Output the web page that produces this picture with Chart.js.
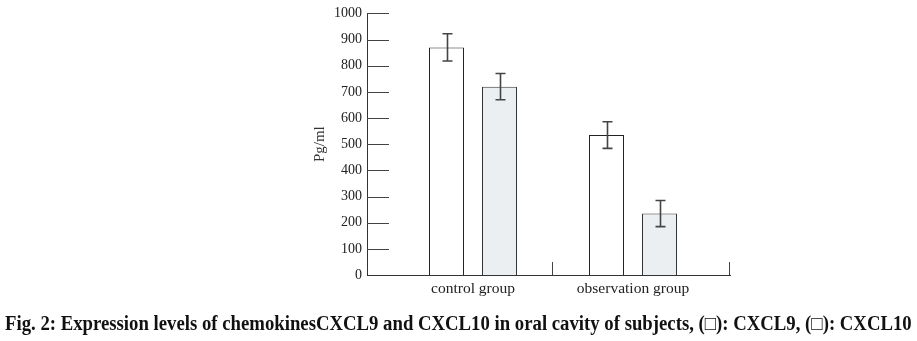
<!DOCTYPE html>
<html>
<head>
<meta charset="utf-8">
<script src="https://cdn.jsdelivr.net/npm/chart.js@4"></script>
<style>
  html, body { margin: 0; padding: 0; background: #fff; }
  #wrap { position: relative; width: 917px; height: 341px; overflow: hidden; }
  #cap { position: absolute; left: 5px; top: 312px; white-space: nowrap; line-height: 23px;
         font: bold 20px "Liberation Serif", "Times New Roman", serif; color: #111;
         transform-origin: 0 0; }
</style>
</head>
<body>
<div id="wrap">
  <canvas id="c" width="917" height="341"></canvas>
  <div id="cap">Fig. 2: Expression levels of chemokinesCXCL9 and CXCL10 in oral cavity of subjects, (□): CXCL9, (□): CXCL10</div>
</div>
<script>
const categories = ['control group', 'observation group'];
const cxcl9 = [870, 535];
const cxcl10 = [720, 235];
const cxcl9Err = [52, 51];
const cxcl10Err = [50, 50];
const yTicks = [0, 100, 200, 300, 400, 500, 600, 700, 800, 900, 1000];

const errs = [cxcl9Err, cxcl10Err];

const decor = {
  id: 'decor',
  afterDatasetsDraw(chart) {
    const ctx = chart.ctx;
    const x = chart.scales.x, y = chart.scales.y;
    const left = chart.chartArea.left, bottom = chart.chartArea.bottom;
    ctx.save();
    ctx.strokeStyle = '#444';
    ctx.lineWidth = 1;
    yTicks.forEach(v => {
      if (v === 0) return;
      const py = Math.round(y.getPixelForValue(v)) + 0.5;
      ctx.beginPath(); ctx.moveTo(left, py); ctx.lineTo(left + 22, py); ctx.stroke();
    });
    [0.5, x.max].forEach(v => {
      const px = Math.round(x.getPixelForValue(v)) - 0.5;
      ctx.beginPath(); ctx.moveTo(px, bottom); ctx.lineTo(px, bottom - 13); ctx.stroke();
    });
    ctx.strokeStyle = '#444';
    ctx.lineWidth = 1.6;
    chart.data.datasets.forEach((ds, di) => {
      const meta = chart.getDatasetMeta(di);
      meta.data.forEach((bar, i) => {
        const v = ds.data[i].y, e = errs[di][i];
        const t = y.getPixelForValue(v + e), b = y.getPixelForValue(v - e);
        const cx = Math.round(bar.x) + 0.5;
        ctx.beginPath();
        ctx.moveTo(cx, t); ctx.lineTo(cx, b);
        ctx.moveTo(cx - 5, t); ctx.lineTo(cx + 5, t);
        ctx.moveTo(cx - 5, b); ctx.lineTo(cx + 5, b);
        ctx.stroke();
      });
    });
    ctx.restore();
  }
};

new Chart(document.getElementById('c'), {
  type: 'bar',
  data: {
    datasets: [
      { label: 'CXCL9', data: cxcl9.map((v, i) => ({ x: i, y: v })),
        backgroundColor: '#ffffff', borderColor: '#222', borderWidth: 1 },
      { label: 'CXCL10', data: cxcl10.map((v, i) => ({ x: i, y: v })),
        backgroundColor: '#eceff1', borderColor: '#333', borderWidth: 1 }
    ]
  },
  options: {
    responsive: false,
    animation: false,
    categoryPercentage: 0.6625,
    barPercentage: 0.66,
    layout: { padding: { left: 305, right: 187, top: 10, bottom: 0 } },
    plugins: { legend: { display: false }, tooltip: { enabled: false } },
    scales: {
      x: {
        type: 'linear',
        offset: false,
        min: -0.6625, max: 1.60625,
        afterBuildTicks(s) { s.ticks = [{ value: 0 }, { value: 1 }]; },
        afterFit(s) { s.height = 66; },
        grid: { display: false, drawTicks: false, offset: false },
        border: { display: true, color: '#333', width: 1 },
        ticks: {
          padding: 5, color: '#222', maxRotation: 0, autoSkip: false,
          font: { family: '"Liberation Serif", "Times New Roman", serif', size: 15.5 },
          callback: (v) => categories[v]
        }
      },
      y: {
        min: 0, max: 1000,
        afterBuildTicks(s) { s.ticks = yTicks.map(v => ({ value: v })); },
        afterFit(s) { s.width = 62; },
        grid: { display: false, drawTicks: false },
        border: { display: true, color: '#333', width: 1 },
        ticks: {
          padding: 5, color: '#222',
          font: { family: '"Liberation Serif", "Times New Roman", serif', size: 14 },
          callback: (v) => String(v)
        },
        title: {
          display: true, text: 'Pg/ml', color: '#333', padding: { top: 6, bottom: 0 },
          font: { family: '"Liberation Serif", "Times New Roman", serif', size: 15 }
        }
      }
    }
  },
  plugins: [decor]
});

const cap = document.getElementById('cap');
const w = cap.scrollWidth;
cap.style.transform = 'scaleX(' + (907 / w) + ')';
</script>
</body>
</html>
